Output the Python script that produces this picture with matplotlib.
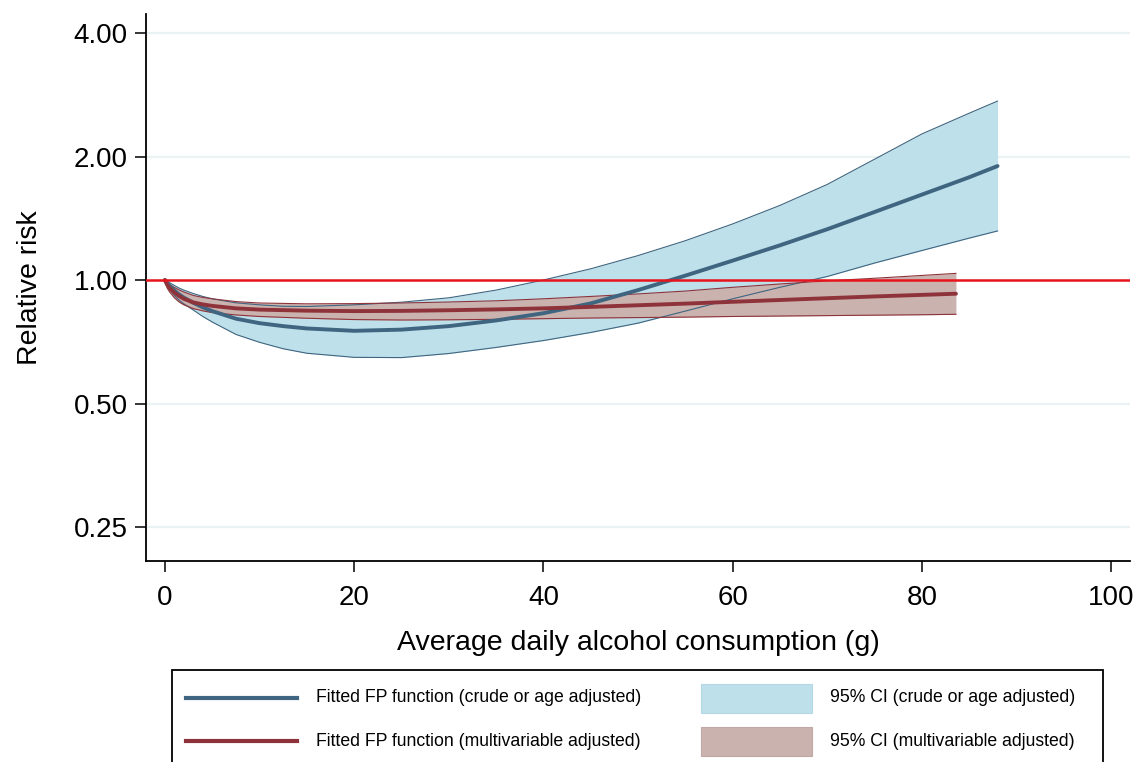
import numpy as np
import matplotlib
matplotlib.use("Agg")
import matplotlib.pyplot as plt
from matplotlib.lines import Line2D
from matplotlib.patches import Rectangle

# ---- data ----
x_crude = [0, 0.25, 0.5, 1, 1.5, 2, 3, 4, 5, 7.5, 10, 12.5, 15, 20, 25, 30,
           35, 40, 45, 50, 55, 60, 65, 70, 75, 80, 85, 88]
rr_crude = [1.0, 0.98, 0.965, 0.942, 0.922, 0.906, 0.88, 0.858, 0.84, 0.805,
            0.785, 0.772, 0.762, 0.752, 0.757, 0.772, 0.797, 0.83, 0.877,
            0.945, 1.025, 1.115, 1.215, 1.33, 1.465, 1.615, 1.78, 1.896]
lo_crude = [1.0, 0.97, 0.95, 0.917, 0.893, 0.875, 0.845, 0.815, 0.79, 0.737,
            0.705, 0.68, 0.663, 0.648, 0.647, 0.662, 0.685, 0.712, 0.745,
            0.785, 0.84, 0.90, 0.96, 1.02, 1.10, 1.18, 1.265, 1.317]
hi_crude = [1.0, 0.993, 0.985, 0.97, 0.956, 0.945, 0.927, 0.912, 0.9, 0.88,
            0.87, 0.863, 0.862, 0.87, 0.883, 0.905, 0.945, 1.0, 1.065, 1.147,
            1.247, 1.37, 1.52, 1.71, 1.97, 2.27, 2.55, 2.73]

x_multi = [0, 0.25, 0.5, 1, 1.5, 2, 3, 4, 5, 7.5, 10, 15, 20, 25, 30, 35, 40,
           45, 50, 55, 60, 65, 70, 75, 80, 83.6]
rr_multi = [1.0, 0.972, 0.955, 0.932, 0.914, 0.9, 0.882, 0.872, 0.865, 0.853,
            0.847, 0.842, 0.84, 0.841, 0.844, 0.848, 0.853, 0.86, 0.868,
            0.876, 0.885, 0.894, 0.903, 0.912, 0.92, 0.926]
lo_multi = [1.0, 0.955, 0.935, 0.905, 0.884, 0.87, 0.852, 0.841, 0.833, 0.822,
            0.815, 0.807, 0.801, 0.799, 0.8, 0.802, 0.805, 0.808, 0.81, 0.812,
            0.815, 0.817, 0.819, 0.821, 0.823, 0.825]
hi_multi = [1.0, 0.987, 0.975, 0.959, 0.946, 0.935, 0.917, 0.907, 0.9, 0.886,
            0.879, 0.875, 0.876, 0.879, 0.884, 0.89, 0.9, 0.912, 0.925, 0.94,
            0.96, 0.978, 0.995, 1.01, 1.026, 1.038]

y_ticks = [0.25, 0.5, 1.0, 2.0, 4.0]
y_tick_labels = ["0.25", "0.50", "1.00", "2.00", "4.00"]
x_ticks = [0, 20, 40, 60, 80, 100]

legend_labels = ["Fitted FP function (crude or age adjusted)",
                 "Fitted FP function (multivariable adjusted)",
                 "95% CI (crude or age adjusted)",
                 "95% CI (multivariable adjusted)"]

# ---- styling ----
plt.rcParams['font.family'] = ['Liberation Sans', 'DejaVu Sans']
BLUE_LINE = "#3f6580"
BLUE_FILL = "#bde0ea"
RED_LINE = "#8f333b"
RED_FILL = "#cab2ae"
REF = "#e8141c"
GRID = "#eaf2f3"

W, H = 1146, 762
fig = plt.figure(figsize=(W / 100, H / 100), dpi=100)
ax = fig.add_axes([146 / W, 1 - 561 / H, (1130 - 146) / W, (561 - 14) / H])

ax.set_yscale("log", base=2)
ax.set_xlim(-2, 102)
ax.set_ylim(2 ** -2.275, 2 ** 2.154)

for yt in y_ticks:
    ax.axhline(yt, color=GRID, lw=1.6, zorder=0)

ax.fill_between(x_crude, lo_crude, hi_crude, color=BLUE_FILL, lw=0, zorder=1)
ax.fill_between(x_multi, lo_multi, hi_multi, color=RED_FILL, lw=0, zorder=2)
ax.plot(x_crude, lo_crude, color=BLUE_LINE, lw=0.8, zorder=3)
ax.plot(x_crude, hi_crude, color=BLUE_LINE, lw=0.8, zorder=3)
ax.plot(x_multi, lo_multi, color=RED_LINE, lw=0.8, zorder=3)
ax.plot(x_multi, hi_multi, color=RED_LINE, lw=0.8, zorder=3)
ax.plot(x_crude, rr_crude, color=BLUE_LINE, lw=2.8, zorder=4,
        solid_capstyle="round", solid_joinstyle="round")
ax.plot(x_multi, rr_multi, color=RED_LINE, lw=2.8, zorder=5,
        solid_capstyle="round", solid_joinstyle="round")
ax.axhline(1.0, color=REF, lw=1.8, zorder=6)

ax.set_yticks(y_ticks)
ax.set_yticklabels(y_tick_labels)
ax.yaxis.set_minor_locator(matplotlib.ticker.NullLocator())
ax.set_xticks(x_ticks)
ax.tick_params(axis="both", labelsize=20, length=8, width=1.1, color="black")
ax.tick_params(axis="y", pad=5)
ax.tick_params(axis="x", pad=9)
for s in ["top", "right"]:
    ax.spines[s].set_visible(False)
for s in ["left", "bottom"]:
    ax.spines[s].set_linewidth(1.3)

ax.set_xlabel("Average daily alcohol consumption (g)", fontsize=20.5,
              labelpad=14)
ax.set_ylabel("Relative risk", fontsize=20.5, labelpad=22)

# ---- legend box (figure coordinates, pixels from top-left) ----
def fx(px):
    return px / W

def fy(py):
    return 1 - py / H

fig.patches.append(Rectangle((fx(172), fy(775)), fx(1103) - fx(172),
                             fy(670) - fy(775), transform=fig.transFigure,
                             fill=False, edgecolor="black", lw=1.3))
fig.lines.append(Line2D([fx(186), fx(297)], [fy(698), fy(698)],
                        transform=fig.transFigure, color=BLUE_LINE, lw=3.0))
fig.lines.append(Line2D([fx(186), fx(297)], [fy(741), fy(741)],
                        transform=fig.transFigure, color=RED_LINE, lw=3.0))
fig.patches.append(Rectangle((fx(701), fy(713)), fx(812) - fx(701),
                             fy(684) - fy(713), transform=fig.transFigure,
                             facecolor=BLUE_FILL, edgecolor="#b4d8e3", lw=0.8))
fig.patches.append(Rectangle((fx(701), fy(756)), fx(812) - fx(701),
                             fy(727) - fy(756), transform=fig.transFigure,
                             facecolor=RED_FILL, edgecolor="#c2a8a4", lw=0.8))
fs_leg = 12.7
fig.text(fx(316), fy(698), legend_labels[0], fontsize=fs_leg, va="center")
fig.text(fx(316), fy(741), legend_labels[1], fontsize=fs_leg, va="center")
fig.text(fx(830), fy(698), legend_labels[2], fontsize=fs_leg, va="center")
fig.text(fx(830), fy(741), legend_labels[3], fontsize=fs_leg, va="center")

fig.savefig("out.png", dpi=100)
